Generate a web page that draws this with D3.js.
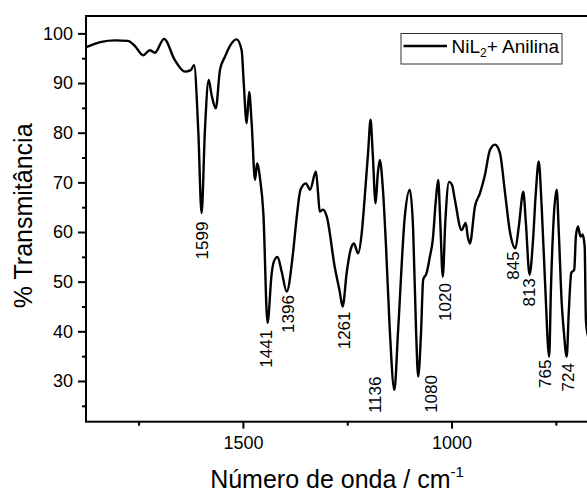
<!DOCTYPE html>
<meta charset="utf-8" />
<script src="https://d3js.org/d3.v7.js"></script>
<style>
  body { margin: 0; overflow: hidden; background: white; }
  text { font-family: "Liberation Sans", Arial, sans-serif; fill: black; }
</style>
<div id="my_dataviz"></div>
<script>
  // spectrum (cm-1 / % T)
  const wavenumber = [
    1874, 1839, 1807, 1776, 1759, 1739, 1723, 1711, 1689, 1663,
    1639, 1625, 1617, 1607, 1599, 1591, 1582, 1575, 1565, 1555,
    1543, 1531, 1515, 1503, 1498, 1491, 1485, 1479, 1471, 1466,
    1459, 1451, 1441, 1431, 1426, 1417, 1407, 1395, 1380, 1371,
    1362, 1349, 1339, 1325, 1320, 1316, 1308, 1299, 1280, 1268,
    1261, 1251, 1242, 1234, 1224, 1215, 1208, 1200, 1194, 1189,
    1182, 1177, 1172, 1164, 1157, 1148, 1137, 1128, 1112, 1100,
    1092, 1085, 1080, 1073, 1068, 1060, 1052, 1045, 1038, 1032,
    1027, 1021, 1015, 1006, 999, 992, 976, 966, 961, 956,
    944, 932, 920, 908, 896, 884, 872, 860, 847, 839,
    828, 822, 813, 805, 798, 791, 784, 776, 766, 762,
    755, 748, 743, 736, 731, 724, 719, 713, 706, 702,
    697, 691, 686, 681, 678, 673
  ];
  const transmittance = [
    97.3, 98.3, 98.6, 98.5, 97.5, 95.6, 96.6, 96.1, 98.9, 94.6,
    92.3, 92.6, 93.6, 80.5, 63.8, 80.5, 90.6, 87.6, 84.9, 92.6,
    95.3, 97.5, 98.8, 96.6, 90.0, 81.9, 88.2, 81.9, 70.5, 73.8,
    70.8, 63.8, 41.7, 51.7, 54.0, 55.0, 52.0, 48.0, 55.7, 63.0,
    68.5, 69.8, 68.5, 72.2, 68.0, 64.1, 64.5, 63.1, 53.0, 48.0,
    45.0, 52.0, 56.4, 57.7, 55.7, 60.0, 67.1, 76.0, 82.6, 76.0,
    65.8, 71.5, 74.5, 68.0, 57.0, 40.3, 28.2, 40.3, 63.1, 68.5,
    60.4, 40.0, 30.9, 40.0, 50.4, 51.7, 55.0, 58.4, 66.0, 70.5,
    62.0, 51.0, 62.0, 70.1, 69.5, 66.5, 60.4, 61.8, 59.0, 57.7,
    65.1, 67.8, 71.5, 76.5, 77.6, 75.9, 68.0, 60.0, 56.7, 61.0,
    68.1, 62.0, 51.4, 58.0, 68.0, 74.2, 65.0, 50.0, 34.9, 48.0,
    63.0, 68.5, 60.0, 45.7, 40.0, 34.9, 44.0, 51.8, 52.4, 59.1,
    61.1, 59.1, 59.5, 57.1, 42.3, 39.0
  ];

  // peak annotations: text and where the label sits (cm-1, % T)
  const peakText = ["1599", "1441", "1396", "1261", "1136", "1080", "1020", "845", "813", "765", "724"];
  const peakLabelWn = [1599, 1445, 1391, 1257, 1184, 1048, 1016, 852, 814, 775, 721];
  const peakLabelT = [62.1, 40.3, 47.3, 44.0, 30.9, 31.2, 49.7, 56.1, 50.7, 34.3, 33.6];

  const xMajor = [1500, 1000];
  const xMinor = [1750, 1250, 750];
  const yMajor = [30, 40, 50, 60, 70, 80, 90, 100];
  const yMinor = [25, 35, 45, 55, 65, 75, 85, 95];

  const seriesName = "NiL";

  const margin = { top: 16, left: 86 },
    width = 502,
    height = 405.7;

  const svg = d3
    .select("#my_dataviz")
    .append("svg")
    .attr("width", 587)
    .attr("height", 493)
    .append("g")
    .attr("transform", `translate(${margin.left}, ${margin.top})`);

  const x = d3.scaleLinear().domain([1876, 673]).range([0, width]);
  const y = d3.scaleLinear().domain([21.8, 103.5]).range([height, 0]);

  // x axis
  const xAxis = svg.append("g").attr("transform", `translate(0, ${height})`);
  xAxis
    .call(d3.axisBottom(x).tickValues(xMajor).tickSize(7).tickPadding(8).tickFormat(d3.format("d")))
    .call((g) => g.select(".domain").remove());
  svg
    .append("g")
    .attr("transform", `translate(0, ${height})`)
    .call(d3.axisBottom(x).tickValues(xMinor).tickSize(4).tickFormat(""))
    .call((g) => g.select(".domain").remove());

  // y axis
  const yAxis = svg.append("g");
  yAxis
    .call(d3.axisLeft(y).tickValues(yMajor).tickSize(8).tickPadding(5))
    .call((g) => g.select(".domain").remove());
  svg
    .append("g")
    .call(d3.axisLeft(y).tickValues(yMinor).tickSize(4).tickFormat(""))
    .call((g) => g.select(".domain").remove());

  svg.selectAll(".tick line").attr("stroke", "black").attr("stroke-width", 2);
  svg.selectAll(".tick text").style("font-size", "18px").style("font-family", '"Liberation Sans", Arial, sans-serif').attr("fill", "black");

  // frame
  svg
    .append("rect")
    .attr("x", 0)
    .attr("y", 0)
    .attr("width", width)
    .attr("height", height)
    .attr("fill", "none")
    .attr("stroke", "black")
    .attr("stroke-width", 2);

  // clip for the line
  svg
    .append("clipPath")
    .attr("id", "plotclip")
    .append("rect")
    .attr("width", width)
    .attr("height", height);

  const data = wavenumber.map((w, i) => ({ w: w, t: transmittance[i] }));

  const line = d3
    .line()
    .x((d) => x(d.w))
    .y((d) => y(d.t))
    .curve(d3.curveMonotoneX);

  svg
    .append("path")
    .datum(data)
    .attr("clip-path", "url(#plotclip)")
    .attr("fill", "none")
    .attr("stroke", "black")
    .attr("stroke-width", 2.4)
    .attr("stroke-linejoin", "round")
    .attr("d", line);

  // peak labels
  svg
    .selectAll(".peak")
    .data(peakText)
    .join("text")
    .attr("class", "peak")
    .attr("transform", (d, i) => `translate(${x(peakLabelWn[i])}, ${y(peakLabelT[i])}) rotate(-90)`)
    .attr("text-anchor", "end")
    .attr("dy", "0.35em")
    .style("font-size", "17px")
    .text((d) => d);

  // legend
  const legend = svg.append("g").attr("transform", `translate(${401 - margin.left}, ${33.5 - margin.top})`);
  legend
    .append("rect")
    .attr("width", 161)
    .attr("height", 30.5)
    .attr("fill", "white")
    .attr("stroke", "#333")
    .attr("stroke-width", 1);
  legend
    .append("line")
    .attr("x1", 2.5)
    .attr("x2", 46)
    .attr("y1", 12.5)
    .attr("y2", 12.5)
    .attr("stroke", "black")
    .attr("stroke-width", 2.5);
  const legText = legend
    .append("text")
    .attr("x", 50.5)
    .attr("y", 19)
    .style("font-size", "19px")
    .text(seriesName);
  legText.append("tspan").attr("dy", 4).style("font-size", "12px").text("2");
  legText.append("tspan").attr("dy", -4).text("+ Anilina");

  // axis titles
  const xTitle = svg
    .append("text")
    .attr("x", width / 2)
    .attr("y", 488 - margin.top)
    .attr("text-anchor", "middle")
    .style("font-size", "25px")
    .text("Número de onda / cm");
  xTitle.append("tspan").attr("dy", -11).style("font-size", "15px").text("-1");

  svg
    .append("text")
    .attr("transform", `translate(${32 - margin.left}, ${height / 2 - 3}) rotate(-90)`)
    .attr("text-anchor", "middle")
    .style("font-size", "25px")
    .text("% Transmitância");
</script>
